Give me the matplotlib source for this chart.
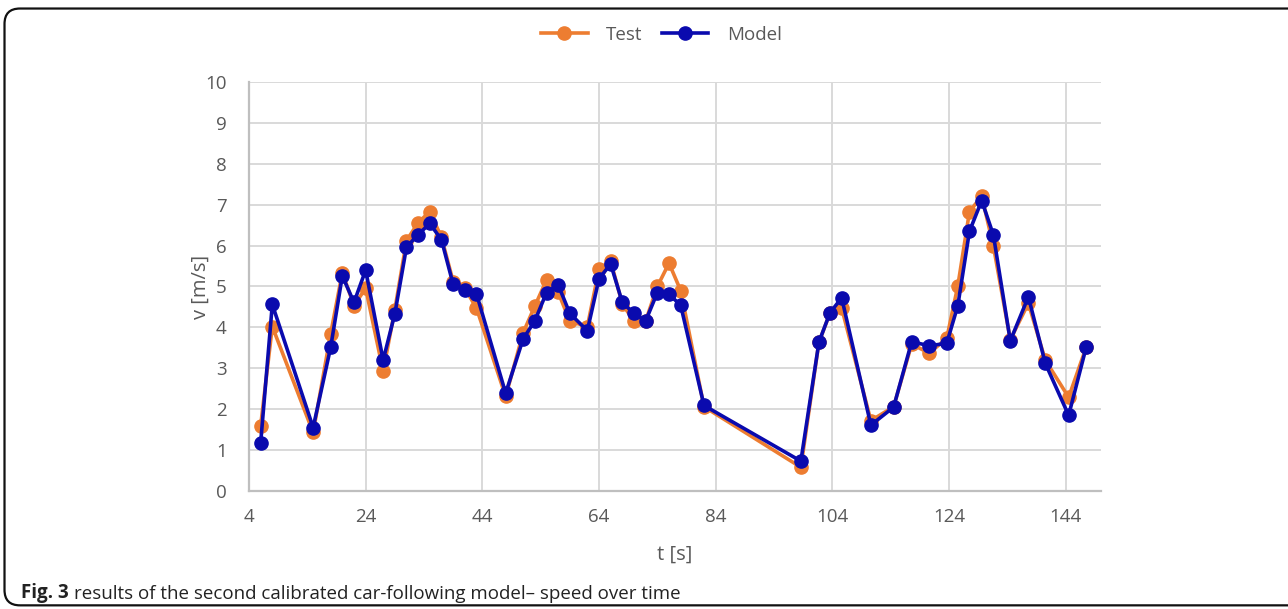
import matplotlib.pyplot as plt
from matplotlib.patches import FancyBboxPatch

# data
t = [6, 8, 15, 18, 20, 22, 24, 27, 29, 31, 33, 35, 37, 39, 41, 43,
     48, 51, 53, 55, 57, 59, 62, 64, 66, 68, 70, 72, 74, 76, 78, 82,
     98.6, 101.7, 103.6, 105.6, 110.6, 114.5, 117.6, 120.6, 123.6, 125.5,
     127.5, 129.6, 131.6, 134.5, 137.6, 140.5, 144.5, 147.5]
v_test = [1.59, 4.02, 1.43, 3.84, 5.34, 4.53, 4.96, 2.93, 4.43, 6.12, 6.56, 6.83,
          6.20, 5.12, 4.96, 4.47, 2.31, 3.87, 4.52, 5.16, 4.86, 4.15, 4.02, 5.42,
          5.62, 4.57, 4.15, 4.16, 5.00, 5.57, 4.90, 2.06, 0.58, 3.64, 4.35, 4.47,
          1.72, 2.06, 3.59, 3.37, 3.73, 5.01, 6.83, 7.21, 5.99, 3.70, 4.59, 3.20,
          2.29, 3.51]
v_model = [1.17, 4.56, 1.55, 3.51, 5.26, 4.61, 5.40, 3.20, 4.33, 5.96, 6.27, 6.54,
           6.14, 5.05, 4.91, 4.82, 2.39, 3.72, 4.16, 4.85, 5.04, 4.34, 3.92, 5.19,
           5.55, 4.61, 4.34, 4.16, 4.85, 4.81, 4.54, 2.09, 0.73, 3.64, 4.36, 4.72,
           1.61, 2.05, 3.65, 3.55, 3.61, 4.53, 6.35, 7.10, 6.26, 3.67, 4.75, 3.12,
           1.85, 3.51]
x_ticks = [4, 24, 44, 64, 84, 104, 124, 144]
y_ticks = list(range(0, 11))

plt.rcParams['font.family'] = ['Open Sans', 'DejaVu Sans']

fig = plt.figure(figsize=(12.88, 6.09), dpi=100)
ax = fig.add_axes([0.1933, 0.1938, 0.6613, 0.6716])

orange = '#ED7D31'
blue = '#0A0AAE'
ax.plot(t, v_test, color=orange, lw=2.6, marker='o', ms=9.5, label='Test', zorder=3)
ax.plot(t, v_model, color=blue, lw=2.6, marker='o', ms=9.5, label='Model', zorder=4)

ax.set_xlim(4, 150)
ax.set_ylim(0, 10)
ax.set_xticks(x_ticks)
ax.set_yticks(y_ticks)
ax.grid(True, color='#D9D9D9', lw=1.4)
ax.set_axisbelow(True)
for s in ['top', 'right']:
    ax.spines[s].set_visible(False)
for s in ['left', 'bottom']:
    ax.spines[s].set_color('#BFBFBF')
    ax.spines[s].set_linewidth(1.6)
ax.tick_params(length=0, labelsize=13.5, labelcolor='#595959')
ax.tick_params(axis='y', pad=16)
ax.tick_params(axis='x', pad=12)

ax.set_xlabel('t [s]', fontsize=14.5, color='#595959', labelpad=14)
ax.set_ylabel('v [m/s]', fontsize=14.5, color='#595959', labelpad=-4)

fig.legend(loc='center', bbox_to_anchor=(0.5135, 0.943), ncol=2, frameon=False,
           fontsize=13.5, labelcolor='#595959', handlelength=2.5, handletextpad=1.0,
           columnspacing=1.0)

# caption: bold label followed by the regular text
cap = fig.text(0.016, 0.018, 'Fig. 3', fontsize=13.5, fontweight='bold', color='#222222')
ax.annotate('results of the second calibrated car-following model\u2013 speed over time',
            xy=(1, 0), xycoords=cap, xytext=(4, 0), textcoords='offset points',
            ha='left', va='bottom', fontsize=13.5, color='#222222', annotation_clip=False)

# rounded frame around the figure
frame = FancyBboxPatch((0.0035, 0.006), 1.05, 0.98, boxstyle='round,pad=0,rounding_size=0.012',
                       transform=fig.transFigure, fill=False, ec='#111111', lw=1.6,
                       mutation_aspect=1288 / 609)
fig.patches.append(frame)

fig.savefig('out.png', dpi=100)
